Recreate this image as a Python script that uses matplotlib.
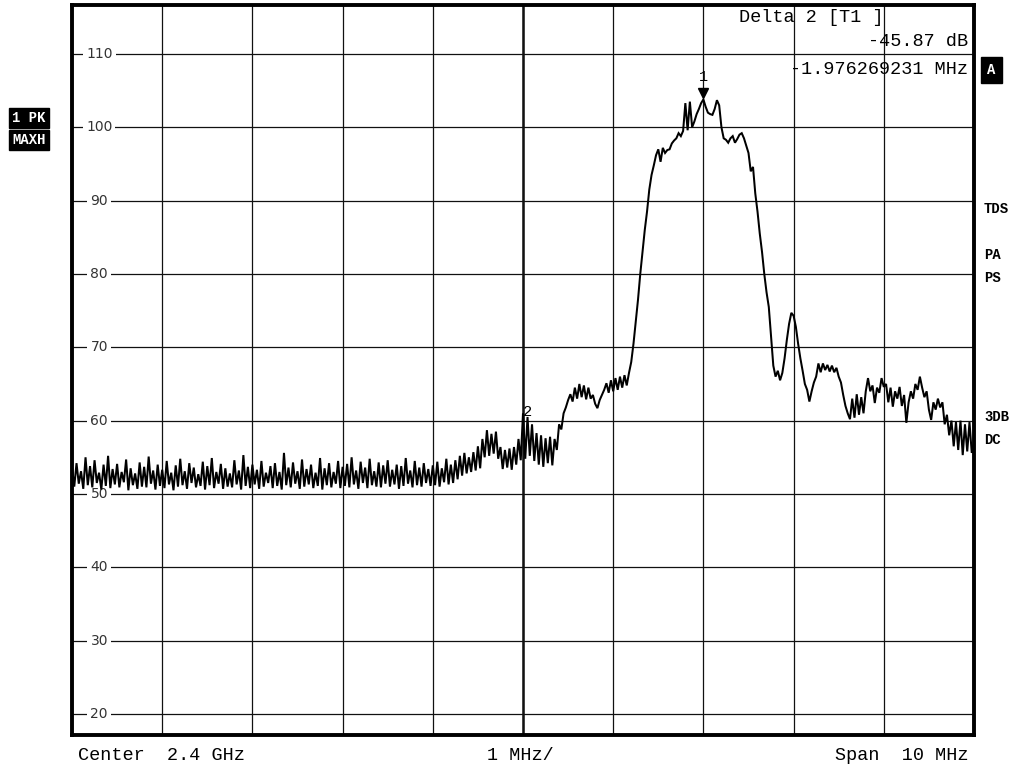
import numpy as np
import matplotlib
matplotlib.use("Agg")
import matplotlib.pyplot as plt
from matplotlib import transforms

# ---------------- data ----------------
span_start_mhz = -5.0
span_stop_mhz = 5.0

level_db = [
    # -5.000 .. -4.525
    53.6, 51.0, 54.2, 51.4, 53.1, 50.7, 55.0, 51.2, 53.8, 50.9, 54.6, 51.5, 52.9, 50.6, 54.0, 51.1, 55.2, 50.8, 53.4, 51.3,
    # -4.500 .. -4.025
    54.1, 50.9, 53.0, 51.6, 54.7, 50.5, 53.5, 51.2, 52.8, 50.7, 54.3, 51.0, 53.7, 50.9, 55.1, 51.4, 53.2, 50.6, 54.0, 51.1,
    # -4.000 .. -3.525
    53.3, 50.8, 54.5, 51.3, 52.9, 50.5, 53.9, 51.0, 54.8, 51.2, 53.1, 50.7, 54.2, 51.5, 53.6, 50.9, 52.7, 51.1, 54.4, 50.6,
    # -3.500 .. -3.025
    53.8, 51.2, 54.9, 50.8, 53.0, 51.4, 54.1, 50.7, 53.5, 51.0, 52.8, 50.9, 54.6, 51.3, 53.2, 50.6, 55.3, 51.1, 53.7, 50.8,
    # -3.000 .. -2.525
    54.0, 51.3, 53.3, 50.7, 54.5, 51.0, 52.9, 51.5, 53.8, 50.8, 54.2, 51.1, 53.0, 50.6, 55.6, 51.2, 53.6, 50.9, 54.3, 51.4,
    # -2.500 .. -2.025
    53.1, 50.7, 54.7, 51.0, 53.4, 51.3, 54.0, 50.8, 52.9, 51.1, 54.9, 50.6, 53.5, 51.2, 54.2, 50.9, 53.0, 51.4, 54.5, 50.8,
    # -2.000 .. -1.525
    53.7, 51.1, 54.1, 50.9, 55.0, 51.3, 53.2, 50.7, 54.4, 51.5, 53.6, 50.8, 54.8, 51.2, 53.1, 51.0, 54.3, 50.9, 53.9, 51.4,
    # -1.500 .. -1.025
    54.6, 51.0, 53.3, 51.3, 54.0, 50.7, 53.8, 51.1, 54.9, 51.4, 53.2, 50.9, 54.5, 51.2, 53.6, 51.0, 54.2, 51.5, 53.4, 51.1,
    # -1.000 .. -0.525
    53.9, 51.2, 54.4, 51.0, 53.5, 51.6, 54.8, 51.3, 54.0, 51.5, 54.6, 52.0, 55.2, 52.5, 55.6, 52.8, 55.0, 53.0, 55.7, 53.2,
    # -0.500 .. -0.025
    56.5, 53.5, 57.5, 55.0, 58.7, 55.2, 58.2, 55.5, 58.5, 54.8, 56.4, 53.4, 56.0, 53.6, 56.2, 53.3, 56.4, 54.0, 57.5, 54.6,
    # 0.000 .. 0.475
    61.0, 54.8, 60.5, 55.2, 59.5, 54.5, 58.3, 54.0, 58.0, 53.7, 57.6, 54.2, 57.8, 53.9, 57.5, 56.0, 59.5, 58.8, 61.0, 61.8,
    # 0.500 .. 0.975
    62.8, 63.6, 62.6, 64.5, 63.0, 65.0, 63.2, 64.8, 62.9, 64.5, 63.0, 63.5, 62.3, 61.7, 62.8, 63.5, 64.2, 65.1, 63.8, 65.5,
    # 1.000 .. 1.475
    64.0, 65.8, 64.2, 66.0, 64.5, 66.2, 64.8, 66.5, 68.0, 70.5, 73.5, 76.5, 80.0, 83.0, 86.0, 88.5, 91.5, 93.5, 94.8, 96.2,
    # 1.500 .. 1.975
    97.0, 95.3, 97.2, 96.5, 96.9, 97.0, 97.8, 98.2, 98.5, 99.2, 98.8, 99.5, 103.3, 99.6, 103.5, 100.0, 100.8, 101.8, 102.5, 103.3,
    # 2.000 .. 2.475
    103.8, 102.8, 102.0, 101.8, 101.7, 102.5, 103.7, 103.0, 100.0, 98.5, 98.3, 97.9, 98.5, 98.8, 97.9, 98.4, 99.0, 99.2, 98.5, 97.5,
    # 2.500 .. 2.975
    96.5, 94.0, 94.6, 91.0, 88.5, 85.5, 83.0, 80.0, 77.5, 75.5, 71.5, 67.5, 66.0, 66.8, 65.5, 66.5, 68.5, 71.0, 73.2, 74.7,
    # 3.000 .. 3.475
    74.3, 72.8, 70.5, 68.5, 66.8, 65.0, 64.2, 62.6, 64.0, 65.2, 66.0, 67.8, 66.6, 67.8, 66.9, 67.6, 66.7, 67.5, 66.6, 67.2,
    # 3.500 .. 3.975
    66.0, 65.2, 63.5, 62.0, 61.0, 60.2, 63.0, 60.4, 63.6, 60.8, 63.2, 61.0, 64.0, 65.8, 64.0, 64.8, 62.4, 64.5, 63.8, 65.8,
    # 4.000 .. 4.475
    64.6, 65.0, 62.5, 64.5, 61.9, 64.0, 63.0, 64.6, 62.0, 63.5, 59.7, 62.5, 64.0, 63.0, 65.0, 64.2, 66.0, 64.5, 63.2, 64.0,
    # 4.500 .. 4.975
    61.5, 60.1, 62.5, 61.5, 63.0, 61.8, 62.5, 59.5, 60.8, 58.0, 60.0, 56.5, 59.8, 56.0, 60.0, 55.3, 59.5, 55.8, 59.8, 55.6,
    # 5.000
    57.0,
]
freq_mhz = np.linspace(span_start_mhz, span_stop_mhz, len(level_db))

y_ticks = [110, 100, 90, 80, 70, 60, 50, 40, 30, 20]
x_grid_mhz = [-5, -4, -3, -2, -1, 0, 1, 2, 3, 4, 5]

marker_names = ["1", "2"]
marker_freq = [2.0, 0.024]
marker_level = [103.8, 57.93]

delta_title = "Delta 2 [T1 ]"
delta_level = "-45.87 dB"
delta_freq = "-1.976269231 MHz"
bottom_left = "Center  2.4 GHz"
bottom_mid = "1 MHz/"
bottom_right = "Span  10 MHz"
right_flags = ["TDS", "PA", "PS", "3DB", "DC"]
right_flag_y_px = [209, 255, 278, 417, 440]

# ---------------- figure ----------------
W, H = 1013, 769
fig = plt.figure(figsize=(W / 100, H / 100), dpi=100)
fig.patch.set_facecolor("white")

ax_left, ax_right, ax_top, ax_bottom = 72, 974, 5, 735
ax = fig.add_axes([ax_left / W, 1 - ax_bottom / H, (ax_right - ax_left) / W, (ax_bottom - ax_top) / H])
ax.set_xlim(span_start_mhz, span_stop_mhz)
ax.set_ylim(17.13, 116.68)

ax.set_xticks(x_grid_mhz)
ax.set_yticks(y_ticks)
ax.tick_params(length=0, labelbottom=False, labelleft=False)
ax.grid(True, color="#111111", linewidth=0.9, zorder=1)
ax.set_axisbelow(True)
ax.axvline(0, color="#111111", linewidth=1.8, zorder=1)
for s in ax.spines.values():
    s.set_linewidth(2.8)
    s.set_color("black")

mono = "Liberation Mono"

# y labels inside the axes, over the grid, below the trace
blend = transforms.blended_transform_factory(ax.transAxes, ax.transData)
for v in y_ticks:
    ax.text(0.0302, v, str(v), transform=blend, ha="center", va="center",
            fontsize=10, color="#333333", family="DejaVu Sans", zorder=2,
            bbox=dict(facecolor="white", edgecolor="none", pad=2.2))

# trace
ax.plot(freq_mhz, level_db, color="black", linewidth=1.45, zorder=3, solid_joinstyle="miter")

# markers
m1 = transforms.offset_copy(ax.transData, fig=fig, x=0, y=4.5, units="points")
ax.plot([marker_freq[0]], [marker_level[0]], marker="v", markersize=7.5,
        color="black", transform=m1, zorder=4, clip_on=False)
m1t = transforms.offset_copy(ax.transData, fig=fig, x=0, y=16, units="points")
ax.text(marker_freq[0], marker_level[0], marker_names[0], transform=m1t,
        ha="center", va="center", fontsize=11, family=mono, zorder=4)
m2t = transforms.offset_copy(ax.transData, fig=fig, x=1.5, y=17, units="points")
ax.text(marker_freq[1], marker_level[1], marker_names[1], transform=m2t,
        ha="center", va="center", fontsize=11, family=mono, zorder=4)

# delta marker readout
def fx(px):
    return px / W

def fy(py):
    return 1 - py / H

fig.text(fx(739), fy(18), delta_title, ha="left", va="center", fontsize=13.3, family=mono)
fig.text(fx(968), fy(41), delta_level, ha="right", va="center", fontsize=13.3, family=mono)
fig.text(fx(968), fy(69), delta_freq, ha="right", va="center", fontsize=13.3, family=mono)

# bottom annotations
fig.text(fx(78), fy(755), bottom_left, ha="left", va="center", fontsize=13.3, family=mono)
fig.text(fx(487), fy(755), bottom_mid, ha="left", va="center", fontsize=13.3, family=mono)
fig.text(fx(968), fy(755), bottom_right, ha="right", va="center", fontsize=13.3, family=mono)

# left boxed flags
box = dict(facecolor="black", edgecolor="black", boxstyle="square,pad=0.25")
fig.text(fx(12), fy(118), "1 PK", ha="left", va="center", fontsize=10, family=mono,
         fontweight="bold", color="white", bbox=box)
fig.text(fx(12), fy(140), "MAXH", ha="left", va="center", fontsize=10, family=mono,
         fontweight="bold", color="white", bbox=box)

# right flags
fig.text(fx(987), fy(70), "A", ha="left", va="center", fontsize=10, family=mono,
         fontweight="bold", color="white",
         bbox=dict(facecolor="black", edgecolor="black", boxstyle="square,pad=0.45"))
for t, py in zip(right_flags, right_flag_y_px):
    fig.text(fx(984), fy(py), t, ha="left", va="center", fontsize=10, family=mono,
             fontweight="bold", color="black")

fig.savefig("out.png", dpi=100)
